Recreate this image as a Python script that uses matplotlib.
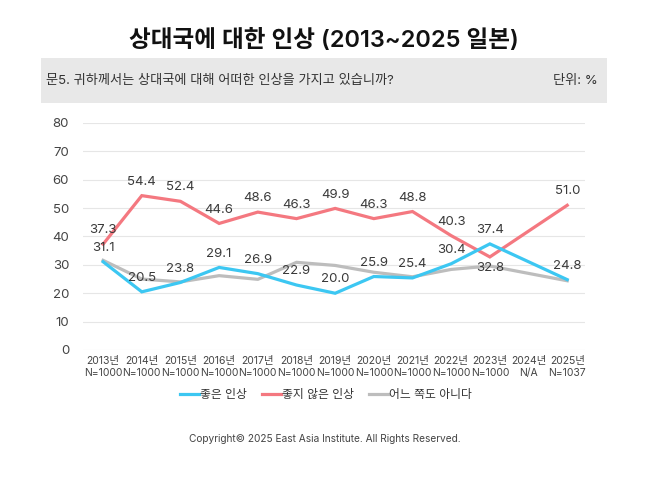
import matplotlib
matplotlib.use("Agg")
import matplotlib.pyplot as plt
import numpy as np
from matplotlib.patches import Rectangle
from matplotlib.lines import Line2D

plt.rcParams['font.family'] = ['Inter', 'Noto Sans CJK KR', 'DejaVu Sans']

years = ["2013년", "2014년", "2015년", "2016년", "2017년", "2018년", "2019년",
         "2020년", "2021년", "2022년", "2023년", "2024년", "2025년"]
samples = ["N=1000", "N=1000", "N=1000", "N=1000", "N=1000", "N=1000", "N=1000",
           "N=1000", "N=1000", "N=1000", "N=1000", "N/A", "N=1037"]
good = [31.1, 20.5, 23.8, 29.1, 26.9, 22.9, 20.0, 25.9, 25.4, 30.4, 37.4, np.nan, 24.8]
bad = [37.3, 54.4, 52.4, 44.6, 48.6, 46.3, 49.9, 46.3, 48.8, 40.3, 32.8, np.nan, 51.0]
neutral = [31.6, 25.0, 24.0, 26.2, 24.9, 30.9, 29.8, 27.4, 25.8, 28.4, 29.6, np.nan, 24.4]
series_names = ["좋은 인상", "좋지 않은 인상", "어느 쪽도 아니다"]
yticks = [0, 10, 20, 30, 40, 50, 60, 70, 80]

c_good = "#3CC7F2"
c_bad = "#F47880"
c_neu = "#BDBDBD"

fig = plt.figure(figsize=(6.56, 4.83), dpi=100)
W, H = 656, 483
ax = fig.add_axes([83 / W, 1 - 350 / H, (585 - 83) / W, (350 - 123) / H])

x = np.arange(len(years))

def plot_series(vals, color, z):
    v = np.array(vals, dtype=float)
    m = ~np.isnan(v)
    ax.plot(x[m], v[m], color=color, lw=2.3, solid_joinstyle='miter', zorder=z)

plot_series(neutral, c_neu, 2)
plot_series(bad, c_bad, 3)
plot_series(good, c_good, 4)

lab_kw = dict(textcoords='offset points', ha='center', va='center',
              fontsize=9.5, color='#3a3a3a', zorder=6)
for i, v in enumerate(bad):
    if np.isnan(v):
        continue
    dy = -8 if i == 10 else 10
    ax.annotate(f"{v:.1f}", (x[i], v), xytext=(0, dy), **lab_kw)
for i, v in enumerate(good):
    if np.isnan(v):
        continue
    ax.annotate(f"{v:.1f}", (x[i], v), xytext=(0, 10), **lab_kw)

ax.set_xlim(-0.52, 12.46)
ax.set_ylim(0, 80)
ax.set_yticks(yticks)
ax.set_yticklabels([str(t) for t in yticks], fontsize=9.5, color='#444444')
ax.set_xticks(x)
ax.set_xticklabels([f"{a}\n{b}" for a, b in zip(years, samples)],
                   fontsize=7.5, color='#444444', linespacing=1.3)
ax.tick_params(axis='both', length=0)
ax.tick_params(axis='y', pad=10)
ax.tick_params(axis='x', pad=4)
ax.grid(axis='y', color='#E6E6E6', lw=0.8)
ax.set_axisbelow(True)
for s in ax.spines.values():
    s.set_visible(False)

# Title
fig.text(324 / W, 1 - 40 / H, "상대국에 대한 인상 (2013~2025 일본)", ha='center', va='center',
         fontsize=17, fontweight='semibold', color='#111111')

# Banner
fig.patches.append(Rectangle((41 / W, 1 - 103 / H), (607 - 41) / W, (103 - 58) / H,
                             transform=fig.transFigure, facecolor='#E8E8E8',
                             edgecolor='none', zorder=0))
fig.text(46 / W, 1 - 81 / H, "문5. 귀하께서는 상대국에 대해 어떠한 인상을 가지고 있습니까?",
         ha='left', va='center', fontsize=9.5, color='#333333')
fig.text(598 / W, 1 - 81 / H, "단위: %", ha='right', va='center', fontsize=9.5, color='#333333')

# Legend
handles = [Line2D([], [], color=c, lw=2.3) for c in (c_good, c_bad, c_neu)]
fig.legend(handles, series_names, loc='center', bbox_to_anchor=(326 / W, 1 - 395 / H),
           ncol=3, frameon=False, fontsize=8.5, handlelength=1.6, handletextpad=0.1,
           columnspacing=1.3, labelcolor='#333333')

fig.text(325 / W, 1 - 439 / H, "Copyright© 2025 East Asia Institute. All Rights Reserved.",
         ha='center', va='center', fontsize=7.3, color='#444444')

fig.savefig("out.png", dpi=100)
